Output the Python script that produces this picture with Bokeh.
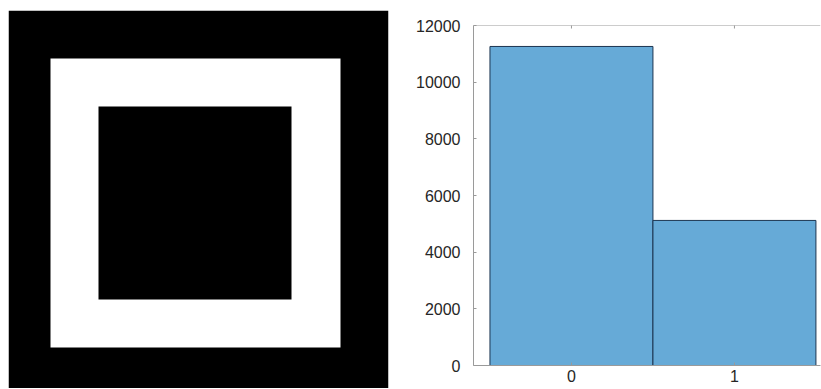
import math
from bokeh.plotting import figure
from bokeh.layouts import row, column
from bokeh.models import Range1d, FixedTicker, Span
from bokeh.embed import file_html
from bokeh.resources import INLINE

# Left panel: binary image drawn as nested squares (image pixel coords, y down)
sq_left   = [0, 42, 90]
sq_right  = [380, 332, 283]
sq_top    = [0, 48, 96]
sq_bottom = [380, 337, 289]
sq_color  = ["#000000", "#ffffff", "#000000"]

# Right panel: histogram of pixel values
bin_values = [0, 1]
counts = [11260, 5120]
y_ticks = [0, 2000, 4000, 6000, 8000, 10000, 12000]
y_max = 12000

# ---- left figure
p1 = figure(width=398, height=388, output_backend="svg", toolbar_location=None,
            x_range=Range1d(0, 380), y_range=Range1d(378, 0),
            min_border_left=8, min_border_right=10, min_border_top=10, min_border_bottom=0)
p1.axis.visible = False
p1.grid.visible = False
p1.outline_line_color = None
p1.quad(left=sq_left, right=sq_right, top=sq_top, bottom=sq_bottom,
        fill_color=sq_color, line_color=None)

# ---- right figure
p2 = figure(width=423, height=388, output_backend="svg", toolbar_location=None,
            x_range=Range1d(-0.601, 1.528), y_range=Range1d(0, y_max),
            min_border_left=75, min_border_right=1, min_border_top=25, min_border_bottom=23)
p2.grid.visible = False
p2.outline_line_color = None

lefts = [b - 0.5 for b in bin_values]
rights = [b + 0.5 for b in bin_values]
p2.quad(left=lefts, right=rights, bottom=0, top=counts,
        fill_color="#66aad7", line_color="#1c3550", line_width=1)

axis_col = "#9a9a9a"
text_col = "#262626"
for ax in (p2.xaxis[0], p2.yaxis[0]):
    ax.axis_line_color = axis_col
    ax.major_tick_line_color = axis_col
    ax.minor_tick_line_color = None
    ax.major_tick_in = 3
    ax.major_tick_out = 0
    ax.major_label_text_font = "Liberation Sans Narrow, Liberation Sans"
    ax.major_label_text_font_size = "16px"
    ax.major_label_text_color = text_col

p2.xaxis[0].ticker = FixedTicker(ticks=bin_values)
p2.xaxis[0].major_label_standoff = 4
p2.yaxis[0].ticker = FixedTicker(ticks=y_ticks)
p2.yaxis[0].major_label_standoff = 13

# top box edge with inward ticks
p2.add_layout(Span(location=y_max, dimension="width", line_color=axis_col, line_width=1))
p2.scatter(x=bin_values, y=[y_max] * len(bin_values), marker="dash", angle=math.pi / 2,
           size=6, line_color=axis_col, line_width=1)

layout = row(column(p1), column(p2), spacing=0)
open("out.html", "w").write(file_html(layout, INLINE))
